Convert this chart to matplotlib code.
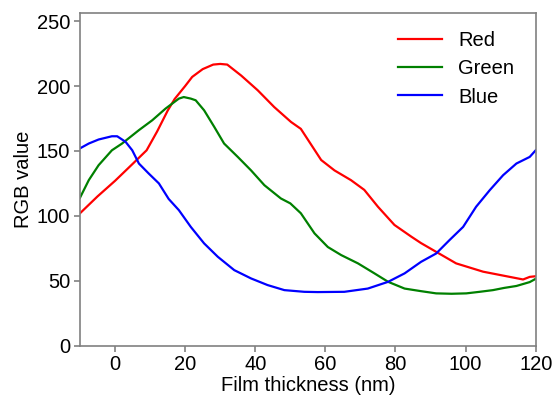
import matplotlib
matplotlib.use("Agg")
import matplotlib.pyplot as plt

plt.rcParams["font.family"] = ["Liberation Sans", "DejaVu Sans"]

# Measured RGB channels of film colour versus thickness
red_x = [-10, -5, 0, 5, 9, 12, 15, 17, 20, 22, 25, 28, 30, 32, 36, 40.7, 45.4,
         50.2, 53, 55.9, 58.8, 62.6, 67.3, 71.1, 75, 79.7, 84.5, 87.3, 91.6,
         97.3, 105, 112.6, 116.4, 118.3, 120]
red_y = [102, 115, 127, 140, 150.5, 165, 181, 190, 200, 207, 213, 216.5, 217,
         216.5, 208, 196.7, 183.8, 172.3, 167, 155, 143, 135, 127.5, 120, 107,
         93, 84, 79, 72.3, 63.4, 57, 53, 51, 53, 53.5]

green_x = [-10, -7.5, -4.7, -0.9, 2, 6.8, 10.6, 14.4, 18.2, 19.6, 21.6, 23,
           25.4, 28.3, 31.1, 35, 38.8, 42.6, 47.3, 50, 53, 56.9, 60.7, 64.5,
           69.3, 74, 77.9, 82.6, 87.3, 91.6, 96, 100.2, 104, 107.8, 111,
           114.5, 118.3, 120]
green_y = [114, 127.5, 139, 150.5, 155.7, 166, 173.6, 182.6, 190.3, 191.5,
           190.3, 189, 181.3, 168.5, 155.7, 145.4, 135, 123.6, 113.4, 109.6,
           102, 86.5, 76, 69.8, 63.4, 55.7, 49.2, 44, 42, 40.3, 40, 40.3, 41.5,
           42.8, 44.5, 46, 49, 51.5]

blue_x = [-10, -7.5, -4.7, -0.9, 0.6, 3, 4.9, 6.8, 9.6, 12.5, 15.3, 18.2, 21.6,
          23.9, 25.4, 29.3, 34, 38.8, 43.5, 48.3, 54, 57.8, 65.4, 72.1, 77.9,
          82.6, 87.3, 91.6, 95.4, 99.3, 103, 106.9, 110.7, 114.5, 118.3, 120]
blue_y = [152, 155.7, 158.8, 161.3, 161.3, 157, 150.5, 140.3, 132.6, 125, 113,
          104.4, 91.5, 83.8, 78.8, 68.5, 58.2, 51.8, 46.7, 42.8, 41.5, 41.3,
          41.5, 44, 49.2, 55.7, 64.6, 71, 81.3, 91.5, 107, 119.8, 131.3, 140.3,
          145.4, 150.5]

x_ticks = [0, 20, 40, 60, 80, 100, 120]
y_ticks = [0, 50, 100, 150, 200, 250]

fig = plt.figure(figsize=(5.53, 3.98), dpi=100)
ax = fig.add_axes([0.1447, 0.1314, 0.8240, 0.8352])

ax.plot(red_x, red_y, color="#ff0000", lw=1.6, label="Red")
ax.plot(green_x, green_y, color="#008000", lw=1.6, label="Green")
ax.plot(blue_x, blue_y, color="#0000ff", lw=1.6, label="Blue")

ax.set_xlim(-10, 120)
ax.set_ylim(0, 256)
ax.set_xticks(x_ticks)
ax.set_yticks(y_ticks)

fs = 14.5
spine_color = "#808080"
for spine in ax.spines.values():
    spine.set_color(spine_color)
    spine.set_linewidth(1.2)
ax.tick_params(colors=spine_color, labelcolor="black", labelsize=fs,
               length=4, width=1.2, pad=3)

ax.set_xlabel("Film thickness (nm)", fontsize=fs, labelpad=1)
ax.set_ylabel("RGB value", fontsize=fs, labelpad=3)

ax.legend(loc="upper right", frameon=False, fontsize=fs, handlelength=2.2,
          handletextpad=0.8, labelspacing=0.45, borderaxespad=0.5,
          bbox_to_anchor=(0.993, 1.0))

fig.savefig("out.png", dpi=100)
